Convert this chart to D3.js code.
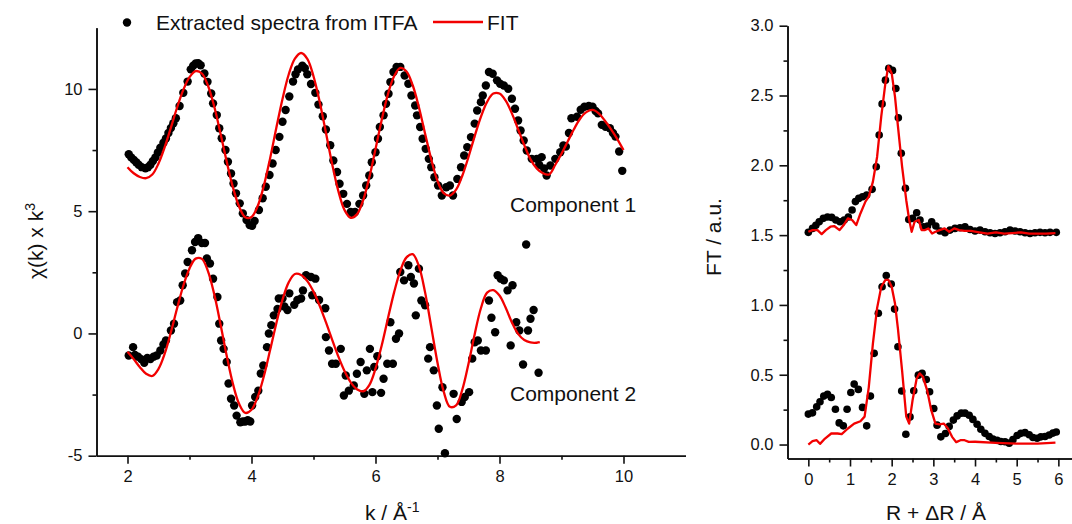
<!DOCTYPE html>
<html>
<head>
<meta charset="utf-8">
<script src="https://cdn.jsdelivr.net/npm/d3@7"></script>
<style>
  body { margin: 0; background: #fff; }
  svg text { font-family: "Liberation Sans", Arial, sans-serif; fill: #111; }
  .axis path, .axis line { stroke: #111; stroke-width: 1.6; }
  .axis text { font-size: 16.5px; font-family: "Liberation Sans", Arial, sans-serif; fill: #111; }
</style>
</head>
<body>
<div id="chart"></div>
<script>
// ---- data ----
// left panel: chi(k) x k^3, [k, value]
const component1Points = [
  [2.02, 7.33], [2.06, 7.2], [2.10, 7.1], [2.14, 7.0], [2.18, 6.9], [2.23, 6.8], [2.29, 6.75], [2.33, 6.8],
  [2.37, 6.9], [2.41, 7.05], [2.45, 7.2], [2.49, 7.4], [2.53, 7.6], [2.58, 7.8], [2.62, 7.97], [2.66, 8.2],
  [2.70, 8.4], [2.74, 8.6], [2.78, 8.8], [2.84, 9.3], [2.90, 9.84], [2.97, 10.3], [3.02, 10.8], [3.06, 10.95],
  [3.10, 11.04], [3.14, 11.05], [3.18, 10.97], [3.24, 10.63], [3.29, 10.29], [3.35, 9.81], [3.38, 9.41], [3.44, 8.93],
  [3.48, 8.39], [3.52, 7.98], [3.58, 7.5], [3.62, 7.02], [3.67, 6.54], [3.71, 6.13], [3.75, 5.73], [3.81, 5.32],
  [3.86, 4.91], [3.92, 4.64], [3.97, 4.43], [4.01, 4.4], [4.05, 4.6], [4.12, 5.05], [4.18, 5.53], [4.23, 6.0],
  [4.29, 6.48], [4.34, 6.95], [4.39, 7.5], [4.45, 8.04], [4.50, 8.66], [4.55, 9.14], [4.61, 9.69], [4.67, 10.3],
  [4.71, 10.6], [4.75, 10.8], [4.82, 10.95], [4.86, 10.85], [4.90, 10.6], [4.96, 10.2], [5.03, 9.84], [5.08, 9.36],
  [5.15, 8.88], [5.20, 8.34], [5.27, 7.7], [5.32, 7.07], [5.38, 6.6], [5.42, 6.12], [5.48, 5.71], [5.54, 5.3],
  [5.60, 4.97], [5.64, 4.9], [5.67, 4.97], [5.74, 5.3], [5.80, 5.64], [5.85, 6.05], [5.90, 6.46], [5.94, 7.0],
  [6.00, 7.41], [6.04, 7.96], [6.07, 8.44], [6.13, 8.92], [6.17, 9.39], [6.21, 9.8], [6.24, 10.28], [6.29, 10.69],
  [6.34, 10.9], [6.40, 10.9], [6.47, 10.55], [6.53, 10.21], [6.58, 9.73], [6.64, 9.32], [6.67, 8.92], [6.72, 8.44],
  [6.76, 7.96], [6.81, 7.55], [6.86, 7.14], [6.90, 6.8], [6.95, 6.39], [7.01, 6.05], [7.07, 5.64], [7.14, 5.98],
  [7.20, 6.05], [7.25, 5.64], [7.32, 6.32], [7.38, 6.8], [7.43, 7.28], [7.48, 7.62], [7.54, 8.03], [7.60, 8.58],
  [7.64, 9.12], [7.70, 9.46], [7.73, 9.73], [7.78, 10.14], [7.83, 10.69], [7.89, 10.62], [7.96, 10.35], [8.01, 10.21],
  [8.07, 10.14], [8.14, 10.01], [8.20, 9.6], [8.25, 9.19], [8.30, 8.71], [8.34, 8.3], [8.39, 7.89], [8.44, 7.48],
  [8.52, 7.14], [8.60, 7.14], [8.64, 6.9], [8.68, 7.21], [8.72, 6.75], [8.76, 6.46], [8.82, 6.87], [8.90, 7.14],
  [8.98, 7.41], [9.03, 7.69], [9.07, 7.64], [9.12, 8.2], [9.16, 8.8], [9.25, 8.86], [9.31, 9.15], [9.37, 9.27],
  [9.44, 9.3], [9.50, 9.27], [9.55, 9.1], [9.59, 9.0], [9.65, 8.53], [9.71, 8.45], [9.78, 8.39], [9.83, 8.2],
  [9.87, 8.05], [9.93, 7.44], [9.98, 6.65],
];

const component1Fit = [
  [2.0, 6.8], [2.1, 6.55], [2.2, 6.4], [2.3, 6.35], [2.4, 6.5], [2.5, 6.95], [2.6, 7.62], [2.7, 8.42], [2.8, 9.24],
  [2.9, 9.96], [3.0, 10.48], [3.1, 10.73], [3.2, 10.63], [3.3, 10.12], [3.4, 9.27], [3.5, 8.18], [3.6, 7.03],
  [3.7, 5.98], [3.8, 5.19], [3.9, 4.75], [4.0, 4.76], [4.1, 5.21], [4.2, 6.05], [4.3, 7.16], [4.4, 8.4], [4.5, 9.59],
  [4.6, 10.59], [4.7, 11.24], [4.8, 11.47], [4.9, 11.23], [5.0, 10.52], [5.1, 9.47], [5.2, 8.22], [5.3, 6.94],
  [5.4, 5.83], [5.5, 5.05], [5.6, 4.73], [5.7, 4.87], [5.8, 5.44], [5.9, 6.38], [6.0, 7.54], [6.1, 8.73], [6.2, 9.78],
  [6.3, 10.52], [6.4, 10.86], [6.5, 10.71], [6.6, 10.15], [6.7, 9.25], [6.8, 8.17], [6.9, 7.11], [7.0, 6.24],
  [7.1, 5.74], [7.2, 5.64], [7.3, 5.88], [7.4, 6.45], [7.5, 7.22], [7.6, 8.07], [7.7, 8.86], [7.8, 9.47], [7.9, 9.81],
  [8.0, 9.81], [8.1, 9.52], [8.2, 9.0], [8.3, 8.35], [8.4, 7.7], [8.5, 7.12], [8.6, 6.75], [8.7, 6.55], [8.8, 6.5],
  [8.9, 6.9], [9.0, 7.35], [9.1, 7.85], [9.2, 8.35], [9.3, 8.78], [9.4, 9.05], [9.5, 9.14], [9.6, 9.0], [9.7, 8.7],
  [9.8, 8.35], [9.9, 7.95], [10.0, 7.5],
];

const component2Points = [
  [2.02, -0.9], [2.09, -0.56], [2.12, -0.88], [2.17, -0.95], [2.22, -1.05], [2.27, -1.2], [2.32, -1.0], [2.37, -1.05],
  [2.42, -0.95], [2.47, -0.9], [2.53, -0.7], [2.58, -0.45], [2.62, -0.29], [2.70, 0.12], [2.75, 0.4], [2.80, 1.28],
  [2.85, 1.35], [2.89, 1.97], [2.93, 2.45], [2.97, 2.92], [3.04, 3.4], [3.09, 3.74], [3.14, 3.9], [3.20, 3.7],
  [3.25, 3.7], [3.28, 3.07], [3.33, 2.86], [3.38, 2.24], [3.45, 1.49], [3.48, 0.4], [3.51, -0.29], [3.55, -0.63],
  [3.60, -1.17], [3.63, -2.05], [3.67, -2.67], [3.72, -2.95], [3.76, -3.36], [3.82, -3.63], [3.86, -3.6], [3.90, -3.6],
  [3.94, -3.55], [3.98, -3.6], [4.01, -2.95], [4.06, -2.6], [4.11, -2.34], [4.15, -1.64], [4.19, -1.31], [4.25, -0.56],
  [4.28, 0.0], [4.32, 0.34], [4.36, 0.74], [4.42, 1.0], [4.44, 1.43], [4.50, 1.43], [4.53, 1.1], [4.58, 0.96],
  [4.61, 1.64], [4.69, 1.17], [4.74, 1.37], [4.80, 1.43], [4.83, 1.76], [4.88, 2.38], [4.96, 2.31], [4.98, 1.56],
  [5.03, 2.24], [5.09, 1.37], [5.19, 1.03], [5.20, -0.15], [5.25, -0.7], [5.30, -1.24], [5.36, -1.24], [5.44, -0.63],
  [5.49, -2.54], [5.52, -1.72], [5.57, -2.34], [5.65, -2.13], [5.70, -1.65], [5.76, -1.17], [5.82, -2.47], [5.86, -1.51],
  [5.91, -0.63], [5.95, -2.4], [5.98, -1.37], [6.03, -0.93], [6.09, -2.43], [6.13, -1.85], [6.19, -1.24], [6.24, 0.46],
  [6.28, -1.24], [6.33, -0.22], [6.38, 0.0], [6.40, 2.51], [6.46, 2.17], [6.53, 2.79], [6.57, 2.31], [6.62, 2.04],
  [6.65, 0.74], [6.70, 2.65], [6.74, 1.35], [6.80, 1.15], [6.85, -1.03], [6.88, -0.56], [6.94, -1.51], [6.99, -2.95],
  [7.02, -3.9], [7.08, -2.2], [7.12, -4.9], [7.26, -2.47], [7.31, -3.5], [7.39, -2.8], [7.44, -2.6], [7.51, -2.4],
  [7.56, -1.03], [7.60, -0.36], [7.65, -0.29], [7.70, -0.7], [7.78, -0.7], [7.83, 1.35], [7.87, 0.64], [7.93, 0.05],
  [7.97, 2.38], [8.02, 2.24], [8.07, 2.17], [8.13, 1.76], [8.18, -0.49], [8.21, 1.97], [8.27, 0.46], [8.32, 0.12],
  [8.38, -1.27], [8.43, 3.64], [8.46, 0.12], [8.50, 0.6], [8.55, 0.96], [8.63, -1.61],
];

const component2Fit = [
  [2.0, -0.75], [2.1, -1.05], [2.2, -1.38], [2.3, -1.65], [2.4, -1.74], [2.5, -1.45], [2.6, -0.83], [2.7, 0.05],
  [2.8, 1.03], [2.9, 1.95], [3.0, 2.66], [3.1, 3.06], [3.2, 3.05], [3.3, 2.53], [3.4, 1.59], [3.5, 0.38], [3.6, -0.91],
  [3.7, -2.06], [3.8, -2.88], [3.9, -3.25], [4.0, -3.12], [4.1, -2.59], [4.2, -1.74], [4.3, -0.68], [4.4, 0.41],
  [4.5, 1.38], [4.6, 2.09], [4.7, 2.43], [4.8, 2.39], [4.9, 2.14], [5.0, 1.71], [5.1, 1.13], [5.2, 0.46], [5.3, -0.25],
  [5.4, -0.94], [5.5, -1.54], [5.6, -2.0], [5.7, -2.28], [5.8, -2.37], [5.9, -2.11], [6.0, -1.44], [6.1, -0.49],
  [6.2, 0.61], [6.3, 1.68], [6.4, 2.56], [6.5, 3.11], [6.6, 3.24], [6.7, 2.75], [6.8, 1.68], [6.9, 0.25], [7.0, -1.2],
  [7.1, -2.38], [7.2, -3.0], [7.3, -2.94], [7.4, -2.3], [7.5, -1.24], [7.6, -0.03], [7.7, 1.03], [7.8, 1.67],
  [7.9, 1.77], [8.0, 1.55], [8.1, 1.05], [8.2, 0.45], [8.3, -0.02], [8.4, -0.27], [8.5, -0.37], [8.6, -0.38],
  [8.65, -0.36],
];

// right panel: FT magnitude, [R + dR, value]; component 1 is offset by 1.5
const ft1Points = [
  [0.0, 1.52], [0.1, 1.548], [0.18, 1.57], [0.26, 1.596], [0.36, 1.62], [0.46, 1.63], [0.56, 1.627], [0.66, 1.608],
  [0.76, 1.596], [0.86, 1.608], [0.96, 1.63], [1.05, 1.68], [1.13, 1.74], [1.21, 1.763], [1.30, 1.775], [1.40, 1.787],
  [1.53, 1.828], [1.63, 1.99], [1.70, 2.217], [1.77, 2.44], [1.85, 2.61], [1.93, 2.695], [2.02, 2.68], [2.10, 2.55],
  [2.16, 2.34], [2.23, 2.086], [2.33, 1.835], [2.41, 1.612], [2.50, 1.62], [2.60, 1.66], [2.68, 1.608], [2.76, 1.56],
  [2.86, 1.565], [2.96, 1.596], [3.06, 1.565], [3.16, 1.53], [3.28, 1.517], [3.40, 1.536], [3.52, 1.548], [3.64, 1.553],
  [3.76, 1.56], [3.88, 1.54], [4.00, 1.53], [4.12, 1.536], [4.24, 1.524], [4.36, 1.517], [4.48, 1.512], [4.60, 1.517],
  [4.72, 1.524], [4.84, 1.536], [4.96, 1.53], [5.08, 1.524], [5.20, 1.517], [5.32, 1.512], [5.44, 1.517], [5.56, 1.52],
  [5.68, 1.517], [5.80, 1.52], [5.95, 1.52],
];

const ft1Fit = [
  [0.0, 1.524], [0.1, 1.536], [0.22, 1.536], [0.32, 1.507], [0.42, 1.536], [0.53, 1.56], [0.62, 1.565], [0.75, 1.536],
  [0.85, 1.572], [0.95, 1.62], [1.05, 1.608], [1.15, 1.572], [1.25, 1.655], [1.37, 1.74], [1.45, 1.775], [1.55, 1.883],
  [1.65, 2.06], [1.75, 2.35], [1.85, 2.59], [1.92, 2.71], [2.0, 2.66], [2.08, 2.49], [2.15, 2.28], [2.25, 1.99],
  [2.35, 1.75], [2.42, 1.61], [2.48, 1.524], [2.55, 1.596], [2.65, 1.608], [2.72, 1.536], [2.8, 1.536], [2.88, 1.548],
  [2.97, 1.512], [3.05, 1.524], [3.15, 1.536], [3.27, 1.548], [3.38, 1.524], [3.5, 1.548], [3.62, 1.536], [3.75, 1.53],
  [3.9, 1.53], [4.1, 1.52], [4.3, 1.51], [4.5, 1.52], [4.7, 1.51], [4.9, 1.515], [5.1, 1.52], [5.3, 1.51], [5.5, 1.51],
  [5.7, 1.51], [5.93, 1.515],
];

const ft2Points = [
  [0.0, 0.218], [0.10, 0.227], [0.20, 0.27], [0.28, 0.306], [0.37, 0.347], [0.46, 0.36], [0.55, 0.337], [0.65, 0.253],
  [0.74, 0.155], [0.84, 0.134], [0.93, 0.253], [1.02, 0.373], [1.10, 0.433], [1.20, 0.395], [1.30, 0.266], [1.40, 0.134],
  [1.49, 0.347], [1.58, 0.653], [1.68, 0.94], [1.77, 1.13], [1.87, 1.21], [1.99, 1.15], [2.07, 0.97], [2.15, 0.70],
  [2.24, 0.383], [2.34, 0.074], [2.44, 0.198], [2.53, 0.385], [2.64, 0.497], [2.73, 0.51], [2.83, 0.466], [2.91, 0.378],
  [3.01, 0.258], [3.09, 0.139], [3.18, 0.055], [3.29, 0.079], [3.38, 0.13], [3.48, 0.175], [3.57, 0.205], [3.67, 0.225],
  [3.76, 0.225], [3.86, 0.21], [3.95, 0.18], [4.05, 0.145], [4.14, 0.11], [4.24, 0.08], [4.34, 0.058], [4.43, 0.04],
  [4.53, 0.03], [4.62, 0.022], [4.72, 0.02], [4.82, 0.01], [4.91, 0.035], [5.01, 0.065], [5.10, 0.08], [5.20, 0.085],
  [5.30, 0.07], [5.39, 0.05], [5.49, 0.045], [5.58, 0.055], [5.68, 0.058], [5.78, 0.068], [5.87, 0.082], [5.95, 0.09],
];

const ft2Fit = [
  [0.0, 0.0], [0.1, 0.024], [0.2, 0.031], [0.28, 0.005], [0.4, 0.043], [0.55, 0.079], [0.7, 0.079], [0.8, 0.074],
  [0.95, 0.115], [1.1, 0.15], [1.25, 0.167], [1.35, 0.2], [1.45, 0.41], [1.55, 0.725], [1.65, 0.977], [1.75, 1.13],
  [1.85, 1.18], [1.92, 1.18], [2.0, 1.13], [2.08, 1.01], [2.15, 0.83], [2.25, 0.53], [2.35, 0.2], [2.42, 0.15],
  [2.5, 0.315], [2.6, 0.473], [2.67, 0.51], [2.75, 0.485], [2.85, 0.39], [2.95, 0.246], [3.05, 0.15], [3.15, 0.145],
  [3.25, 0.15], [3.35, 0.115], [3.45, 0.055], [3.55, 0.017], [3.65, 0.031], [3.75, 0.031], [3.85, 0.019], [4.0, 0.02],
  [4.5, 0.012], [5.0, 0.007], [5.5, 0.007], [5.93, 0.014],
];

// axis ticks
const kTicks = [2, 4, 6, 8, 10];
const kMinorTicks = [3, 5, 7, 9];
const chiTicks = [-5, 0, 5, 10];
const chiMinorTicks = [-2.5, 2.5, 7.5];
const rTicks = [0, 1, 2, 3, 4, 5, 6];
const rMinorTicks = [0.5, 1.5, 2.5, 3.5, 4.5, 5.5];
const ftTicks = [0.0, 0.5, 1.0, 1.5, 2.0, 2.5, 3.0];
const ftMinorTicks = [0.25, 0.75, 1.25, 1.75, 2.25, 2.75];

const RED = '#f20000';

// eslint-disable-next-line no-unused-vars
class SpectrumPanel {
  constructor(_config, _series) {
    this.config = _config;
    this.series = _series;
    this.initVis();
  }

  initVis() {
    const vis = this;
    const c = vis.config;

    vis.xScale = d3.scaleLinear().domain(c.xDomain).range(c.xRange);
    vis.yScale = d3.scaleLinear().domain(c.yDomain).range(c.yRange);

    vis.g = c.svg.append('g');

    // minor ticks first, major ticks on top
    vis.g.append('g')
      .attr('class', 'axis')
      .attr('transform', `translate(0,${c.yRange[0]})`)
      .call(d3.axisBottom(vis.xScale).tickValues(c.xMinor).tickSize(4).tickSizeOuter(0).tickFormat(''));
    vis.g.append('g')
      .attr('class', 'axis')
      .attr('transform', `translate(0,${c.yRange[0]})`)
      .call(d3.axisBottom(vis.xScale).tickValues(c.xMajor).tickSize(8).tickSizeOuter(0)
        .tickPadding(7).tickFormat(c.xFormat));

    vis.g.append('g')
      .attr('class', 'axis')
      .attr('transform', `translate(${c.xRange[0]},0)`)
      .call(d3.axisLeft(vis.yScale).tickValues(c.yMinor).tickSize(4).tickSizeOuter(0).tickFormat(''));
    vis.g.append('g')
      .attr('class', 'axis')
      .attr('transform', `translate(${c.xRange[0]},0)`)
      .call(d3.axisLeft(vis.yScale).tickValues(c.yMajor).tickSize(8).tickSizeOuter(0)
        .tickPadding(6).tickFormat(c.yFormat));

    vis.renderVis();
  }

  renderVis() {
    const vis = this;
    const c = vis.config;

    const line = d3.line()
      .x((d) => vis.xScale(d[0]))
      .y((d) => vis.yScale(d[1]))
      .curve(c.curve);

    vis.series.forEach((s) => {
      vis.g.append('g').selectAll('circle')
        .data(s.points)
        .join('circle')
        .attr('cx', (d) => vis.xScale(d[0]))
        .attr('cy', (d) => vis.yScale(d[1]))
        .attr('r', c.dotRadius)
        .attr('fill', '#000');
    });

    vis.series.forEach((s) => {
      vis.g.append('path')
        .datum(s.fit)
        .attr('fill', 'none')
        .attr('stroke', RED)
        .attr('stroke-width', 2.3)
        .attr('stroke-linejoin', 'round')
        .attr('d', line);
    });
  }
}

const svg = d3.select('#chart').append('svg')
  .attr('width', 1072)
  .attr('height', 524);

const plainNumber = (d) => String(d);

const leftPanel = new SpectrumPanel({
  svg,
  xDomain: [1.5, 11],
  xRange: [96.5, 685.5],
  yDomain: [-5, 12.5],
  yRange: [455.7, 27.8],
  xMajor: kTicks,
  xMinor: kMinorTicks,
  yMajor: chiTicks,
  yMinor: chiMinorTicks,
  xFormat: plainNumber,
  yFormat: plainNumber,
  curve: d3.curveCatmullRom,
  dotRadius: 4.2,
}, [
  { points: component1Points, fit: component1Fit },
  { points: component2Points, fit: component2Fit },
]);

const rightPanel = new SpectrumPanel({
  svg,
  xDomain: [-0.5, 6.5],
  xRange: [787.5, 1079.2],
  yDomain: [-0.1, 3.0],
  yRange: [458.5, 25.7],
  xMajor: rTicks,
  xMinor: rMinorTicks,
  yMajor: ftTicks,
  yMinor: ftMinorTicks,
  xFormat: plainNumber,
  yFormat: d3.format('.1f'),
  curve: d3.curveLinear,
  dotRadius: 3.8,
}, [
  { points: ft1Points, fit: ft1Fit },
  { points: ft2Points, fit: ft2Fit },
]);

// legend
svg.append('circle').attr('cx', 127).attr('cy', 22.5).attr('r', 4.2).attr('fill', '#000');
svg.append('text').attr('x', 156).attr('y', 30).style('font-size', '21px')
  .text('Extracted spectra from ITFA');
svg.append('line')
  .attr('x1', 433).attr('x2', 483).attr('y1', 22).attr('y2', 22)
  .attr('stroke', RED).attr('stroke-width', 2.3);
svg.append('text').attr('x', 487).attr('y', 30).style('font-size', '21px').text('FIT');

// component labels
svg.append('text').attr('x', 510).attr('y', 212).style('font-size', '21px').text('Component 1');
svg.append('text').attr('x', 510).attr('y', 401).style('font-size', '21px').text('Component 2');

// axis titles
const kTitle = svg.append('text').attr('x', 365).attr('y', 520).style('font-size', '21px');
kTitle.append('tspan').text('k / Å');
kTitle.append('tspan').attr('dy', -8).style('font-size', '14px').text('-1');

svg.append('text').attr('x', 936).attr('y', 520)
  .attr('text-anchor', 'middle').style('font-size', '21px')
  .text('R + ΔR / Å');

const chiTitle = svg.append('text')
  .attr('transform', 'translate(43,241) rotate(-90)')
  .attr('text-anchor', 'middle')
  .style('font-size', '21px');
chiTitle.append('tspan').text('χ(k) x k');
chiTitle.append('tspan').attr('dy', -8).style('font-size', '14px').text('3');

svg.append('text')
  .attr('transform', 'translate(721,237) rotate(-90)')
  .attr('text-anchor', 'middle')
  .style('font-size', '21px')
  .text('FT / a.u.');
</script>
</body>
</html>
